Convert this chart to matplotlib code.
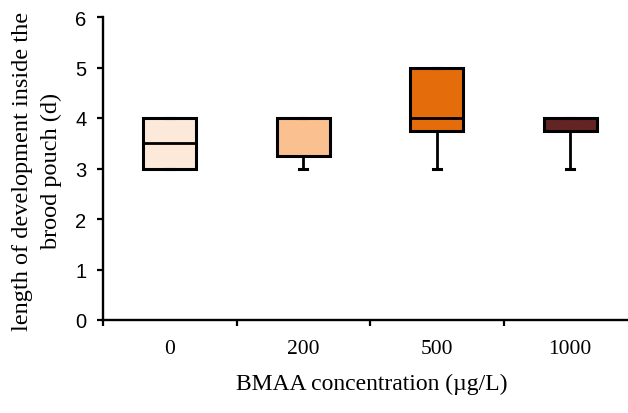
import matplotlib
matplotlib.use("Agg")
import matplotlib.pyplot as plt

# Data
categories = ["0", "200", "500", "1000"]
whisker_low = [3.0, 3.0, 3.0, 3.0]
q1_values = [3.0, 3.25, 3.75, 3.75]
medians = [3.5, 4.0, 4.0, 4.0]
q3_values = [4.0, 4.0, 5.0, 4.0]
whisker_high = [4.0, 4.0, 5.0, 4.0]
box_colors = ["#FDE9D9", "#FAC090", "#E46C0A", "#632523"]

stats = []
for i, c in enumerate(categories):
    stats.append(dict(label=c, whislo=whisker_low[i], q1=q1_values[i],
                      med=medians[i], q3=q3_values[i], whishi=whisker_high[i],
                      fliers=[]))

fig = plt.figure(figsize=(6.28, 4.14), dpi=100)
ax = fig.add_axes([103 / 628, (414 - 321) / 414, 534 / 628, (321 - 18) / 414])

positions = list(range(len(categories)))
bp = ax.bxp(stats, positions=positions, widths=0.4, patch_artist=True,
            showfliers=False, capwidths=0.06,
            boxprops=dict(linewidth=2.2, edgecolor="black"),
            whiskerprops=dict(linewidth=2.0, color="black"),
            capprops=dict(linewidth=2.2, color="black"),
            medianprops=dict(linewidth=2.0, color="black"))
for patch, col in zip(bp["boxes"], box_colors):
    patch.set_facecolor(col)

ax.set_xlim(-0.5, len(categories) - 0.5)
ax.set_ylim(0, 6)

# Category boundary ticks (major) and centered labels (minor)
ax.set_xticks([p - 0.5 for p in positions])
ax.set_xticklabels([])
ax.set_xticks(positions, minor=True)
ax.set_xticklabels(categories, minor=True, family="Liberation Serif", fontsize=15.5)
ax.tick_params(axis="x", which="major", direction="out", length=4, width=1.6)
ax.tick_params(axis="x", which="minor", length=0, pad=14)

ax.set_yticks(range(0, 7))
ax.set_yticklabels([str(v) for v in range(0, 7)], family="Liberation Sans", fontsize=14.5)
ax.tick_params(axis="y", direction="out", length=4, width=1.6, pad=8)

for s in ["top", "right"]:
    ax.spines[s].set_visible(False)
for s in ["left", "bottom"]:
    ax.spines[s].set_linewidth(1.7)

fig.text(372 / 628, (414 - 384) / 414, "BMAA concentration (\u00b5g/L)",
         family="Liberation Serif", fontsize=17, ha="center", va="center")
fig.text(37 / 628, (414 - 171) / 414,
         "length of development inside the\nbrood pouch (d)",
         family="Liberation Serif", fontsize=17.5, rotation=90,
         ha="center", va="center", multialignment="center", linespacing=1.45)

fig.savefig("out.png", dpi=100)
